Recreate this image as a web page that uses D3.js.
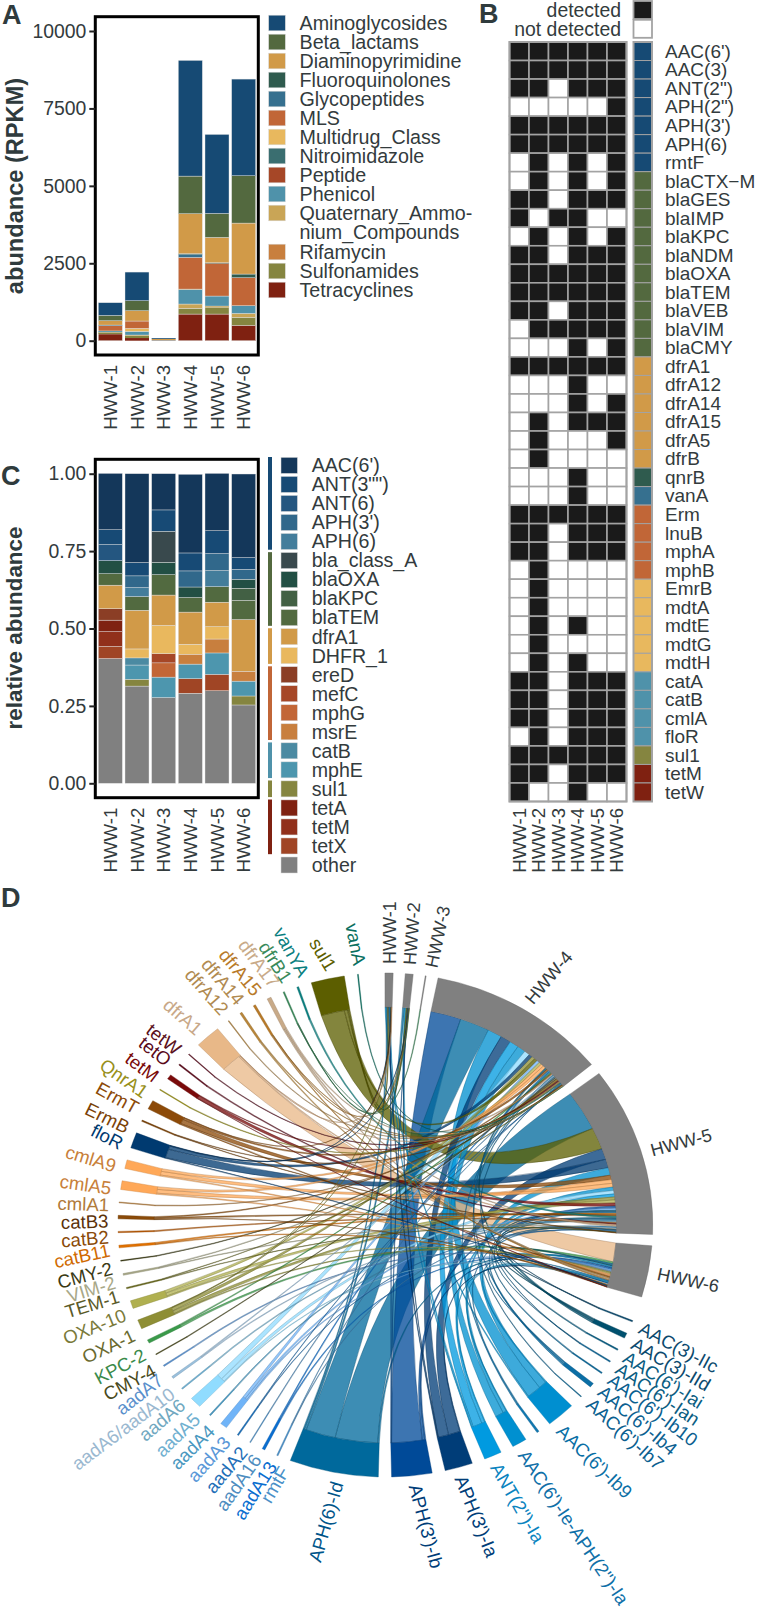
<!DOCTYPE html>
<html><head><meta charset="utf-8">
<script src="https://cdn.jsdelivr.net/npm/d3@7/dist/d3.min.js"></script>
<style>html,body{margin:0;padding:0;background:#fff}svg{display:block}text{font-family:"Liberation Sans",Arial,sans-serif}</style>
</head><body><svg id="fig" width="759" height="1614"></svg>
<script>
/* ---------- shared ---------- */
const samples=["HWW-1","HWW-2","HWW-3","HWW-4","HWW-5","HWW-6"];

/* ---------- panel A: abundance by class (RPKM) ---------- */
const classNames=["Aminoglycosides","Beta_lactams","Diaminopyrimidine","Fluoroquinolones","Glycopeptides","MLS","Multidrug_Class","Nitroimidazole","Peptide","Phenicol","Quaternary_Ammonium_Compounds","Rifamycin","Sulfonamides","Tetracyclines"];
const classColors=["#164a74","#53693f","#d19a48","#2f5b4e","#36708f","#c16637","#e8b85e","#3a6e70","#a64727","#4f92aa","#c9a556","#c87f3e","#858540","#7f2111"];
const aminoglycosides=[409,925,25,3735,2550,3121];
const betaLactams=[172,323,5,1215,774,1528];
const diaminopyrimidine=[140,333,35,1290,818,1646];
const fluoroquinolones=[0,0,0,20,20,118];
const glycopeptides=[20,0,10,100,0,0];
const mls=[170,237,11,1023,1056,904];
const multidrug=[0,97,0,10,0,0];
const nitroimidazole=[0,0,0,0,0,0];
const peptide=[0,0,0,0,0,0];
const phenicol=[40,118,0,473,323,248];
const quaternary=[20,20,0,140,43,129];
const rifamycin=[0,0,0,0,0,0];
const sulfonamides=[40,77,0,184,216,258];
const tetracyclines=[215,86,0,860,860,495];
const classSeries=[aminoglycosides,betaLactams,diaminopyrimidine,fluoroquinolones,glycopeptides,mls,multidrug,nitroimidazole,peptide,phenicol,quaternary,rifamycin,sulfonamides,tetracyclines];
const abundanceTicks=[0,2500,5000,7500,10000];

/* ---------- panel C: relative abundance ---------- */
const relGenes=["AAC(6')",'ANT(3"")',"ANT(6)","APH(3')","APH(6)","bla_class_A","blaOXA","blaKPC","blaTEM","dfrA1","DHFR_1","ereD","mefC","mphG","msrE","catB","mphE","sul1","tetA","tetM","tetX","other"];
const relColors=["#14375a","#174a75","#245680","#31688b","#437d9b","#39494d","#224f44","#426044","#526a40","#d19a48","#e9b85e","#8b3e25","#a64727","#c26637","#c87f3e","#4b8aa2","#4d96ae","#858540","#7f2111","#91301b","#a04525","#808080"];
const relAAC6=[.182,.287,.117,.254,.185,.27];
const relANT3=[.048,.043,.069,.058,.074,.038];
const relANT6=[.052,0,0,0,0,0];
const relAPH3=[0,.038,0,.052,.055,.032];
const relAPH6=[0,.029,0,0,.052,0];
const relClassA=[0,0,.1,0,0,0];
const relOXA=[.042,0,.04,.034,0,.029];
const relKPC=[0,0,0,0,0,.039];
const relTEM=[.037,.044,.066,.047,.05,.062];
const relDfrA1=[.076,.125,.098,.104,.079,.167];
const relDHFR=[0,.029,.091,.032,.04,0];
const relEreD=[.037,0,0,0,0,0];
const relMefC=[0,0,.03,0,0,0];
const relMphG=[0,0,.046,0,0,0];
const relMsrE=[0,0,0,.032,.045,.032];
const relCatB=[0,.023,0,0,0,0];
const relMphE=[0,.046,.066,.047,.069,.048];
const relSul1=[0,.022,0,0,0,.029];
const relTetA=[.037,0,0,0,0,0];
const relTetM=[.048,0,0,0,0,0];
const relTetX=[.039,0,0,.047,.053,0];
const relOther=[.403,.314,.277,.291,.299,.253];
const relSeries=[relAAC6,relANT3,relANT6,relAPH3,relAPH6,relClassA,relOXA,relKPC,relTEM,relDfrA1,relDHFR,relEreD,relMefC,relMphG,relMsrE,relCatB,relMphE,relSul1,relTetA,relTetM,relTetX,relOther];
const relGroups=[["Aminoglycosides",5],["Beta_lactams",4],["Diaminopyrimidine",2],["MLS",4],["Phenicol",2],["Sulfonamides",1],["Tetracyclines",3]];
const relativeTicks=[0,.25,.5,.75,1];

/* ---------- panel B: detection matrix ---------- */
const heatGenes=["AAC(6')","AAC(3)",'ANT(2")','APH(2")',"APH(3')","APH(6)","rmtF","blaCTX\u2212M","blaGES","blaIMP","blaKPC","blaNDM","blaOXA","blaTEM","blaVEB","blaVIM","blaCMY","dfrA1","dfrA12","dfrA14","dfrA15","dfrA5","dfrB","qnrB","vanA","Erm","lnuB","mphA","mphB","EmrB","mdtA","mdtE","mdtG","mdtH","catA","catB","cmlA","floR","sul1","tetM","tetW"];
const heatRows=["111111","111111","110111","000001","111111","111111","010101","010101","110111","101100","010101","110111","111111","111111","110111","011111","000101","111111","000100","000101","010111","010001","010000","000100","000100","111111","110111","110111","010000","010000","010000","010100","010000","010100","110111","110111","110111","010111","111111","110111","100100"];
const heatClassRuns=[["Aminoglycosides",7],["Beta_lactams",10],["Diaminopyrimidine",6],["Fluoroquinolones",1],["Glycopeptides",1],["MLS",4],["Multidrug_Class",5],["Phenicol",4],["Sulfonamides",1],["Tetracyclines",2]];

/* ---------- panel D: gene to sample links ---------- */
const chordGenes=["AAC(3)-IIc","AAC(3)-IId","AAC(6')-Iai","AAC(6')-Ian","AAC(6')-Ib10","AAC(6')-Ib4","AAC(6')-Ib7","AAC(6')-Ib9","","AAC(6')-Ie-APH(2'')-Ia","ANT(2'')-Ia","APH(3')-Ia","APH(3')-Ib","APH(6)-Id","rmtF","aadA13","aadA16","aadA2","aadA3","aadA4","aadA5","aadA6","aadA6/aadA10","aadA7","CMY-4","KPC-2","OXA-1","OXA-10","TEM-1","VIM-2","CMY-2","catB11","catB2","catB3","cmlA1","cmlA5","cmlA9","floR","ErmB","ErmT","QnrA1","tetM","tetO","tetW","dfrA1","dfrA12","dfrA14","dfrA15","dfrA17","dfrB1","vanYA","sul1","vanA"];
const chordColors=["#0c4a6e","#00506e","#0a5d82","#0a6090","#0a6696","#0b6ea5","#1a6b94","#008fd0","#1077b0","#0090d0","#009ae0","#003d78","#004a98","#00699c","#4a90c8","#0a6ed0","#4e8dc0","#1f70b8","#70b4f8","#4a98c0","#90dcff","#70b0d0","#9ac0dc","#5a90cc","#4a4a20","#3a9a4a","#8e8e35","#b0b050","#6a6a20","#a8a888","#3a3a14","#e07000","#b85a08","#8a4a08","#b07a3a","#ffa858","#ffa858","#003a70","#7a4208","#8c4a08","#98901a","#7a0a0a","#5a0a1a","#5a1020","#e8b888","#b08a50","#b8863a","#b87a28","#c8aa88","#3a8a5a","#0a8080","#5c5e00","#0a7060"];
const chordLabelColors=["#0c4a6e","#0c4a6e","#0a5d82","#0a5d82","#0a6090","#0a6090","#0a6090","#0a6fa5","","#1070a8","#0a84c0","#003d78","#003d78","#00558a","#4a90c8","#0a6ed0","#4e8dc0","#1f70b8","#5a98d8","#4a98c0","#70b0d0","#70a8c0","#9ab8d0","#5a90cc","#4a4a20","#3a8a4a","#6a6a30","#7a7a3a","#5a5a28","#a8a888","#3a3a14","#d06a00","#8a4a08","#5a3008","#b07a3a","#c8803a","#c8803a","#003a70","#7a4208","#8c4a08","#98901a","#7a0a0a","#5a0a1a","#5a1020","#c8a888","#b08a50","#b08a50","#b87a28","#c8aa88","#3a8a5a","#0a8080","#5c5e00","#0a7060"];
const chordLinks=[
[0,0,0,0,.15,.15],[0,0,0,.5,.4,.3],[0,0,0,0,.3,0],[0,0,0,.15,.15,0],[0,0,0,0,.3,0],[0,0,0,.4,.4,.2],[0,0,0,.2,0,0],
[.3,0,0,3.6,2,.3],[0,0,0,.25,.25,0],[0,0,0,2.1,.9,.2],[.15,.35,0,2.3,.8,.2],[.2,.1,0,2.6,2.9,.2],[.1,.1,0,7.6,.6,.3],[.3,.5,0,7.4,10.6,.4],
[0,0,0,.15,.15,0],[0,0,0,.3,0,.3],[0,0,0,.2,0,0],[0,0,0,.15,.15,0],[0,0,0,.7,.5,.3],[0,0,0,0,.3,0],[0,0,0,1.4,.9,.2],[0,0,0,0,.3,0],[0,0,0,.25,.25,0],[0,0,0,0,0,.3],
[0,0,0,.2,0,0],[0,0,0,.3,0,.5],[.1,.1,0,.8,.8,.3],[0,0,0,.7,.8,.3],[0,0,0,.15,.15,0],[0,0,0,.2,.2,0],[0,0,0,.2,0,0],
[0,0,0,0,.4,.2],[0,0,0,0,.3,0],[0,0,0,.3,.4,.1],[0,0,0,.2,0,0],[0,0,0,.7,1,.3],[0,0,0,.7,1,.3],[.1,.1,0,.9,2.3,.2],
[0,0,0,.15,.15,0],[.1,0,0,.5,1.2,.3],[0,0,0,.2,0,0],[0,0,0,.2,.8,.1],[0,0,0,0,.3,0],[0,0,0,.2,0,0],
[.1,0,0,.1,.3,5],[0,0,0,.2,0,0],[0,0,0,.2,0,.3],[0,.1,0,.15,0,.25],[0,0,0,.3,.3,.3],[0,.05,.2,.05,0,0],[0,0,0,0,.4,0],[.3,.3,0,.8,5.8,0],[0,0,0,.2,0,0]];
/* label layout for the chord: where each label sits (degrees clockwise from top) and its tilt */
const geneLabelAt=[113,116.7,120.1,123,125.8,129,132.6,141,null,150.3,156.6,164.3,173.9,190,201.4,204.1,207.6,210.8,214.9,218.9,222.9,227.1,230.3,234.2,236.5,240.5,245.2,250,254.2,257.4,260.5,264.5,267.4,270.9,274.4,278.1,283,288,291.8,296.4,300.2,304.3,308.6,311.8,317.9,324.6,328.5,332.6,336.6,339.3,343,348.8,354.7];
const geneLabelTilt=[28,30,32,34,37,40,42,44,0,56,60,68,75,-74,-60,-58,-55,-50,-48,-45,-44,-40,-37,-38,-28,-28,-25,-22,-17,-17,-15,-12,-5,-2,2,8,17,27,26,29,35,37,38,38,41,48.5,49.6,50,53,57,61,59,79];
const sampleLabelAt=[.9,5,9.5,31.1,73.4,100.7];
const sampleLabelTilt=[-90,-86,-78,-50,-15,12];

/* ---------- drawing ---------- */
const svg=d3.select("#fig");
const ink="#333b3d";
function panelLetter(t,x,y){svg.append("text").attr("x",x).attr("y",y).attr("font-size",27).attr("font-weight",700).attr("fill","#2f3b3d").text(t);}
function yTitle(t,x,y,size){svg.append("text").attr("transform",`translate(${x},${y}) rotate(-90)`).attr("text-anchor","middle").attr("font-size",size).attr("font-weight",700).attr("fill","#2f3b3d").text(t);}

const xBand=d3.scaleBand().domain(samples).range([97,257]).paddingInner(.1).paddingOuter(.05);

function stackedPanel(opts){
  const {y,keys,series,colors,top,bottom,ticks,fmt}=opts;
  const table=samples.map((s,i)=>{const r={sample:s};keys.forEach((k,j)=>r[k]=series[j][i]);return r;});
  const stack=d3.stack().keys(keys.slice().reverse())(table);
  const col=d3.scaleOrdinal(keys,colors);
  const g=svg.append("g");
  g.selectAll("g.s").data(stack).join("g").attr("class","s").attr("fill",d=>col(d.key))
   .selectAll("rect").data(d=>d.filter(p=>p[1]-p[0]>0)).join("rect")
   .attr("x",d=>xBand(d.data.sample)).attr("width",xBand.bandwidth())
   .attr("y",d=>y(d[1])).attr("height",d=>y(d[0])-y(d[1]))
   .attr("stroke",d=>y(d[0])-y(d[1])>3?"#e4e4e4":"none").attr("stroke-width",.4);
  g.append("rect").attr("x",95.3).attr("y",top).attr("width",163).attr("height",bottom-top).attr("fill","none").attr("stroke","#000").attr("stroke-width",3);
  const ay=g.append("g").attr("transform","translate(95.3,0)").call(d3.axisLeft(y).tickValues(ticks).tickFormat(fmt).tickSize(6).tickPadding(3));
  ay.select(".domain").remove();
  ay.selectAll("line").attr("stroke","#222").attr("stroke-width",2);
  ay.selectAll("text").attr("font-size",19.4).attr("fill",ink);
  const ax=g.append("g").attr("transform",`translate(0,${bottom+2})`).call(d3.axisBottom(xBand).tickSize(0).tickPadding(0));
  ax.select(".domain").remove();
  ax.selectAll("text").attr("font-size",18.6).attr("fill",ink).attr("text-anchor","end").attr("dy",0)
    .attr("transform","translate(6.5,8) rotate(-90)").attr("y",0).attr("x",0);
}

/* A */
panelLetter("A",2,24);
yTitle("abundance (RPKM)",23,186,23.6);
stackedPanel({y:d3.scaleLinear().domain([0,10000]).range([340.7,31]),keys:classNames,series:classSeries,colors:classColors,top:16.7,bottom:355,ticks:abundanceTicks,fmt:d3.format("d")});
let legY=15.2;
classNames.forEach((n,i)=>{
  svg.append("rect").attr("x",268.7).attr("y",legY).attr("width",16.6).attr("height",15.6).attr("fill",classColors[i]).attr("stroke","#d8d8d8").attr("stroke-width",.5);
  const lines=n.startsWith("Quaternary")?["Quaternary_Ammo-","nium_Compounds"]:[n];
  lines.forEach((l,k)=>svg.append("text").attr("x",299.5).attr("y",legY+8+19*k).attr("dy",".35em").attr("font-size",19.7).attr("fill",ink).text(l));
  legY+=19*lines.length+(lines.length>1?1:0);
});

/* C */
panelLetter("C",1,485);
yTitle("relative abundance",22,628,22.4);
stackedPanel({y:d3.scaleLinear().domain([0,1]).range([783.3,473.7]),keys:relGenes,series:relSeries,colors:relColors,top:459.3,bottom:797.7,ticks:relativeTicks,fmt:d3.format(".2f")});
const legC=d3.scaleLinear().domain([0,21]).range([465.4,865]);
relGenes.forEach((n,i)=>{
  svg.append("rect").attr("x",281).attr("y",legC(i)-8).attr("width",16.4).attr("height",16).attr("fill",relColors[i]).attr("stroke","#d8d8d8").attr("stroke-width",.5);
  svg.append("text").attr("x",311.7).attr("y",legC(i)).attr("dy",".35em").attr("font-size",19.6).attr("fill",ink).text(n);
});
const classColor=d3.scaleOrdinal(classNames,classColors);
let gi=0;
relGroups.forEach(([c,n])=>{
  svg.append("rect").attr("x",268).attr("width",4).attr("y",legC(gi)-8.4).attr("height",legC(gi+n-1)-legC(gi)+16.6).attr("fill",classColor(c));
  gi+=n;
});

/* B */
panelLetter("B",479,23);
const hx=d3.scaleBand().domain(samples).range([509.5,626.5]);
const hy=d3.scaleBand().domain(heatGenes).range([42,801.5]);
const cellClass=heatClassRuns.flatMap(([c,n])=>d3.range(n).map(()=>c));
const hg=svg.append("g");
heatGenes.forEach((g,r)=>{
  samples.forEach((s,c)=>{
    hg.append("rect").attr("x",hx(s)).attr("y",hy(g)).attr("width",hx.bandwidth()).attr("height",hy.bandwidth())
      .attr("fill",heatRows[r][c]==="1"?"#1a1a1a":"#fff").attr("stroke","#a3a3a3").attr("stroke-width",1.6);
  });
  hg.append("rect").attr("x",633.5).attr("y",hy(g)).attr("width",18.5).attr("height",hy.bandwidth())
    .attr("fill",classColor(cellClass[r])).attr("stroke","#a3a3a3").attr("stroke-width",1);
  hg.append("text").attr("x",665).attr("y",hy(g)+hy.bandwidth()/2).attr("dy",".35em").attr("font-size",19).attr("fill",ink).text(g);
});
hg.append("rect").attr("x",509.5).attr("y",42).attr("width",117).attr("height",759.5).attr("fill","none").attr("stroke","#a3a3a3").attr("stroke-width",2);
hg.append("rect").attr("x",633.5).attr("y",42).attr("width",18.5).attr("height",759.5).attr("fill","none").attr("stroke","#a3a3a3").attr("stroke-width",2);
[["detected","#1a1a1a",1],["not detected","#fff",19.8]].forEach(([t,f,y])=>{
  hg.append("rect").attr("x",633.5).attr("y",y).attr("width",18.5).attr("height",18).attr("fill",f).attr("stroke","#a3a3a3").attr("stroke-width",1.8);
  hg.append("text").attr("x",621).attr("y",y+9).attr("dy",".35em").attr("text-anchor","end").attr("font-size",19.4).attr("fill",ink).text(t);
});
samples.forEach(s=>{
  hg.append("text").attr("transform",`translate(${hx(s)+hx.bandwidth()/2+6.5},808) rotate(-90)`).attr("text-anchor","end").attr("font-size",18.6).attr("fill",ink).text(s);
});

/* D: chord, on a slightly wide ellipse */
panelLetter("D",1,907);
const cx=385.4,cy=1225,rx=267.4,ry=252,ringIn=.865;
const rad=d=>d*Math.PI/180;
const pt=(deg,p)=>[cx+rx*p*Math.sin(rad(deg)),cy-ry*p*Math.cos(rad(deg))];
const arcTo=(deg0,deg1,p)=>{const q=pt(deg1,p);const large=Math.abs(deg1-deg0)>180?1:0;const sweep=deg1>deg0?1:0;return `A${rx*p},${ry*p} 0 ${large} ${sweep} ${q[0]},${q[1]}`;};
const sampleGap=2.6,groupGap=5.7,geneGap=2.85,startDeg=-.1;
const geneTotals=chordLinks.map(r=>d3.sum(r));
const sampleTotals=samples.map((s,i)=>d3.sum(chordLinks,r=>r[i]));
const allValue=d3.sum(geneTotals)+d3.sum(sampleTotals);
const freeDeg=360-5*sampleGap-2*groupGap-(chordGenes.length-1)*geneGap;
const toDeg=d3.scaleLinear().domain([0,allValue]).range([0,freeDeg]);
let cursor=startDeg;
const sampleArcs=samples.map((s,i)=>{const a={name:s,i,start:cursor,end:cursor+toDeg(sampleTotals[i])};cursor=a.end+sampleGap;return a;});
cursor+=groupGap-sampleGap;
const geneArcs=chordGenes.map((n,i)=>{const a={name:n,i,color:chordColors[i],start:cursor,end:cursor+toDeg(geneTotals[i])};cursor=a.end+geneGap;return a;});

const ribbons=[];
geneArcs.forEach(g=>{
  let c=g.start;
  for(let s=5;s>=0;s--){const v=chordLinks[g.i][s];if(v>0){const w=toDeg(v);ribbons.push({gene:g.i,sample:s,v,a0:c,a1:c+w});c+=w;}}
});
sampleArcs.forEach(a=>{
  let c=a.start;
  ribbons.filter(r=>r.sample===a.i).sort((p,q)=>d3.descending(p.v,q.v)).forEach(r=>{const w=toDeg(r.v);r.b0=c;r.b1=c+w;c+=w;});
});
const dg=svg.append("g");
const ctrl=[cx+6,cy-14];
const ribbonPath=r=>{
  const A0=pt(r.a0,ringIn),B0=pt(r.b0,ringIn);
  return `M${A0[0]},${A0[1]}${arcTo(r.a0,r.a1,ringIn)}Q${ctrl[0]},${ctrl[1]} ${B0[0]},${B0[1]}${arcTo(r.b0,r.b1,ringIn)}Q${ctrl[0]},${ctrl[1]} ${A0[0]},${A0[1]}Z`;
};
dg.selectAll("path.rib").data(ribbons.slice().sort((p,q)=>d3.descending(p.v,q.v))).join("path").attr("class","rib")
  .attr("d",ribbonPath).attr("fill",d=>chordColors[d.gene]).attr("fill-opacity",.76)
  .attr("stroke",d=>d3.color(chordColors[d.gene]).darker(1.1)).attr("stroke-opacity",.85).attr("stroke-width",.45);
const ringPath=a=>{const s=pt(a.start,1),e=pt(a.end,ringIn);return `M${s[0]},${s[1]}${arcTo(a.start,a.end,1)}L${e[0]},${e[1]}${arcTo(a.end,a.start,ringIn)}Z`;};
dg.selectAll("path.gene").data(geneArcs).join("path").attr("class","gene").attr("d",ringPath).attr("fill",d=>d.color).attr("stroke",d=>d3.color(d.color).darker(.6)).attr("stroke-width",.4);
dg.selectAll("path.samp").data(sampleArcs).join("path").attr("class","samp").attr("d",ringPath).attr("fill","#808080").attr("stroke","#6a6a6a").attr("stroke-width",.4);

function ringLabel(text,deg,tilt,fill,size){
  const p=pt(deg,1.036);
  const anchor=deg<180?"start":"end";
  dg.append("text").attr("transform",`translate(${p[0]},${p[1]}) rotate(${tilt})`).attr("text-anchor",anchor).attr("dy",".35em").attr("font-size",size).attr("fill",fill).text(text);
}
samples.forEach((s,i)=>ringLabel(s,sampleLabelAt[i],sampleLabelTilt[i],ink,18));
geneArcs.forEach((g,i)=>{ if(g.name) ringLabel(g.name,geneLabelAt[i],geneLabelTilt[i],chordLabelColors[i],18.6); });
</script></body></html>
